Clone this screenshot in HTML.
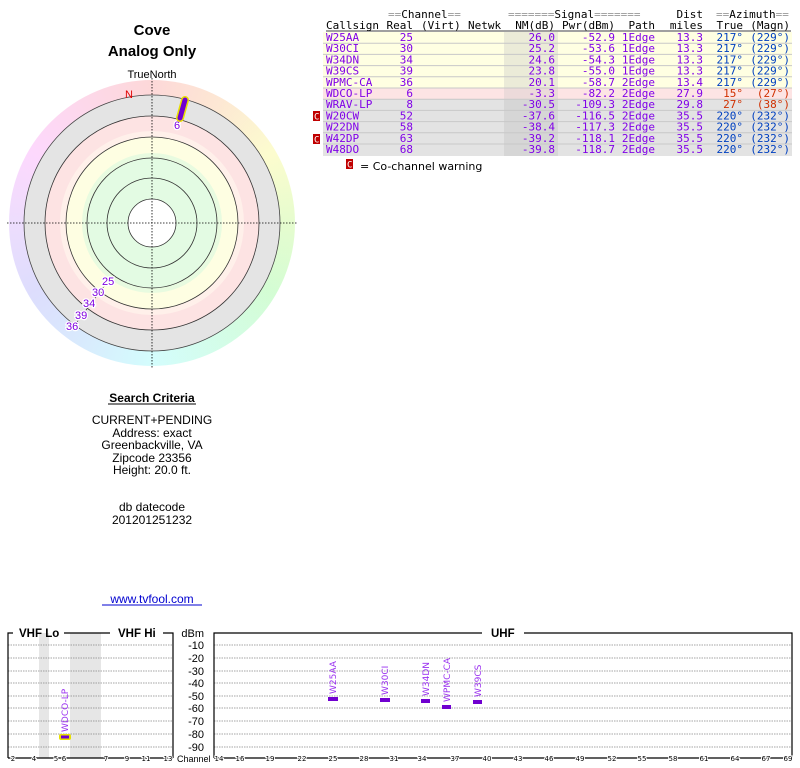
<!DOCTYPE html>
<html><head><meta charset="utf-8"><style>
body{margin:0;background:#fff;width:800px;height:768px;overflow:hidden;position:relative;font-family:"Liberation Sans",sans-serif}
#wheel{position:absolute;left:9px;top:80px;width:286px;height:286px;border-radius:50%;
background:conic-gradient(from 0deg,hsl(0,90%,92%),hsl(30,90%,91%),hsl(60,90%,90%),hsl(90,90%,90%),hsl(120,90%,91%),hsl(150,90%,91%),hsl(180,90%,91%),hsl(210,90%,92%),hsl(240,90%,93%),hsl(270,90%,93%),hsl(300,90%,92%),hsl(330,90%,92%),hsl(360,90%,92%))}
svg{position:absolute;left:0;top:0}
</style></head><body>
<div id="wheel"></div>
<svg width="800" height="768" xmlns="http://www.w3.org/2000/svg">
<g font-family="Liberation Sans, sans-serif" text-anchor="middle" fill="#000">
<text x="152" y="35" font-size="15" font-weight="bold">Cove</text>
<text x="152" y="56" font-size="15" font-weight="bold">Analog Only</text>
<text x="152" y="78" font-size="11">TrueNorth</text>
</g>
<circle cx="152" cy="223" r="128" fill="#e4e4e4" stroke="#444" stroke-width="0.8"/>
<circle cx="152" cy="223" r="107" fill="#fde3e3" stroke="#333" stroke-width="0.8"/>
<circle cx="152" cy="223" r="92" fill="#fff0ea" stroke="none"/>
<circle cx="152" cy="223" r="86" fill="#fefee2" stroke="#333" stroke-width="0.8"/>
<circle cx="152" cy="223" r="70" fill="#e8fbe0" stroke="none"/>
<circle cx="152" cy="223" r="65" fill="#e3fbe3" stroke="#333" stroke-width="0.8"/>
<circle cx="152" cy="223" r="45" fill="#e3fbe3" stroke="#333" stroke-width="0.8"/>
<circle cx="152" cy="223" r="24" fill="#fff" stroke="#333" stroke-width="0.8"/>
<line x1="7" y1="223" x2="297" y2="223" stroke="#000" stroke-width="0.8" stroke-dasharray="1.5,1.5"/>
<line x1="152" y1="78" x2="152" y2="368" stroke="#000" stroke-width="0.8" stroke-dasharray="1.5,1.5"/>
<text x="129" y="98" font-size="11" fill="#e00000" text-anchor="middle">N</text>
<line x1="108" y1="281" x2="74" y2="326" stroke="#333" stroke-width="0.8" stroke-dasharray="1.5,1"/>
<g font-family="Liberation Sans, sans-serif" font-size="11" fill="#8000e0" stroke="#fff" stroke-width="2.5" paint-order="stroke">
<text x="102" y="285">25</text><text x="92" y="296">30</text><text x="83" y="307">34</text><text x="75" y="319">39</text><text x="66" y="330">36</text>
<text x="174" y="129">6</text>
</g>
<line x1="180" y1="118" x2="185" y2="100" stroke="#e8e000" stroke-width="8" stroke-linecap="round"/>
<line x1="180" y1="118" x2="185" y2="100" stroke="#7000d0" stroke-width="5" stroke-linecap="round"/>
<g font-family="Liberation Sans, sans-serif" text-anchor="middle" font-size="12" fill="#000">
<text x="152" y="402" font-weight="bold">Search Criteria</text>
<line x1="108" y1="404" x2="196" y2="404" stroke="#000" stroke-width="1"/>
<text x="152" y="424">CURRENT+PENDING</text>
<text x="152" y="437">Address: exact</text>
<text x="152" y="449">Greenbackville, VA</text>
<text x="152" y="462">Zipcode 23356</text>
<text x="152" y="474">Height: 20.0 ft.</text>
<text x="152" y="511">db datecode</text>
<text x="152" y="524">201201251232</text>
<text x="152" y="603" fill="#0000d0">www.tvfool.com</text>
<line x1="102" y1="605" x2="202" y2="605" stroke="#0000d0" stroke-width="1"/>
</g>
<rect x="323" y="32" width="469" height="56" fill="#ffffe2"/>
<rect x="323" y="88" width="469" height="11.2" fill="#fde4e4"/>
<rect x="323" y="99.2" width="469" height="56.8" fill="#e3e3e3"/>
<rect x="504" y="32" width="54" height="56" fill="#ebebd8"/>
<rect x="504" y="88" width="54" height="11.2" fill="#ecdada"/>
<rect x="504" y="99.2" width="54" height="56.8" fill="#d6d6d6"/>
<g stroke="#c8c8c8" stroke-width="1">
<line x1="323" y1="43.2" x2="792" y2="43.2"/><line x1="323" y1="54.4" x2="792" y2="54.4"/><line x1="323" y1="65.6" x2="792" y2="65.6"/><line x1="323" y1="76.8" x2="792" y2="76.8"/><line x1="323" y1="88" x2="792" y2="88"/><line x1="323" y1="99.2" x2="792" y2="99.2"/><line x1="323" y1="110.4" x2="792" y2="110.4"/><line x1="323" y1="121.6" x2="792" y2="121.6"/><line x1="323" y1="132.8" x2="792" y2="132.8"/><line x1="323" y1="144" x2="792" y2="144"/>
</g>
<line x1="326" y1="31" x2="791" y2="31" stroke="#000" stroke-width="0.8"/>
<g font-family="DejaVu Sans Mono, monospace" font-size="11" fill="#000">
<text x="388" y="18"><tspan fill="#999">==</tspan>Channel<tspan fill="#999">==</tspan></text>
<text x="508" y="18"><tspan fill="#999">=======</tspan>Signal<tspan fill="#999">=======</tspan></text>
<text x="703" y="18" text-anchor="end">Dist</text>
<text x="716" y="18"><tspan fill="#999">==</tspan>Azimuth<tspan fill="#999">==</tspan></text>
<text x="326" y="29">Callsign</text>
<text x="413" y="29" text-anchor="end">Real</text>
<text x="421" y="29">(Virt)</text>
<text x="468" y="29">Netwk</text>
<text x="555" y="29" text-anchor="end">NM(dB)</text>
<text x="615" y="29" text-anchor="end">Pwr(dBm)</text>
<text x="655" y="29" text-anchor="end">Path</text>
<text x="703" y="29" text-anchor="end">miles</text>
<text x="743" y="29" text-anchor="end">True</text>
<text x="790" y="29" text-anchor="end">(Magn)</text>
</g>
<g font-family="DejaVu Sans Mono, monospace" font-size="11" fill="#8000e8">
<g transform="translate(0,41)"><text x="326">W25AA</text><text x="413" text-anchor="end">25</text><text x="555" text-anchor="end">26.0</text><text x="615" text-anchor="end">-52.9</text><text x="655" text-anchor="end">1Edge</text><text x="703" text-anchor="end">13.3</text><text x="743" text-anchor="end" fill="#0040c0">217°</text><text x="790" text-anchor="end" fill="#0040c0">(229°)</text></g>
<g transform="translate(0,52.2)"><text x="326">W30CI</text><text x="413" text-anchor="end">30</text><text x="555" text-anchor="end">25.2</text><text x="615" text-anchor="end">-53.6</text><text x="655" text-anchor="end">1Edge</text><text x="703" text-anchor="end">13.3</text><text x="743" text-anchor="end" fill="#0040c0">217°</text><text x="790" text-anchor="end" fill="#0040c0">(229°)</text></g>
<g transform="translate(0,63.4)"><text x="326">W34DN</text><text x="413" text-anchor="end">34</text><text x="555" text-anchor="end">24.6</text><text x="615" text-anchor="end">-54.3</text><text x="655" text-anchor="end">1Edge</text><text x="703" text-anchor="end">13.3</text><text x="743" text-anchor="end" fill="#0040c0">217°</text><text x="790" text-anchor="end" fill="#0040c0">(229°)</text></g>
<g transform="translate(0,74.6)"><text x="326">W39CS</text><text x="413" text-anchor="end">39</text><text x="555" text-anchor="end">23.8</text><text x="615" text-anchor="end">-55.0</text><text x="655" text-anchor="end">1Edge</text><text x="703" text-anchor="end">13.3</text><text x="743" text-anchor="end" fill="#0040c0">217°</text><text x="790" text-anchor="end" fill="#0040c0">(229°)</text></g>
<g transform="translate(0,85.8)"><text x="326">WPMC-CA</text><text x="413" text-anchor="end">36</text><text x="555" text-anchor="end">20.1</text><text x="615" text-anchor="end">-58.7</text><text x="655" text-anchor="end">2Edge</text><text x="703" text-anchor="end">13.4</text><text x="743" text-anchor="end" fill="#0040c0">217°</text><text x="790" text-anchor="end" fill="#0040c0">(229°)</text></g>
<g transform="translate(0,97)"><text x="326">WDCO-LP</text><text x="413" text-anchor="end">6</text><text x="555" text-anchor="end">-3.3</text><text x="615" text-anchor="end">-82.2</text><text x="655" text-anchor="end">2Edge</text><text x="703" text-anchor="end">27.9</text><text x="743" text-anchor="end" fill="#d03000">15°</text><text x="790" text-anchor="end" fill="#d03000">(27°)</text></g>
<g transform="translate(0,108.2)"><text x="326">WRAV-LP</text><text x="413" text-anchor="end">8</text><text x="555" text-anchor="end">-30.5</text><text x="615" text-anchor="end">-109.3</text><text x="655" text-anchor="end">2Edge</text><text x="703" text-anchor="end">29.8</text><text x="743" text-anchor="end" fill="#d03000">27°</text><text x="790" text-anchor="end" fill="#d03000">(38°)</text></g>
<g transform="translate(0,119.4)"><text x="326">W20CW</text><text x="413" text-anchor="end">52</text><text x="555" text-anchor="end">-37.6</text><text x="615" text-anchor="end">-116.5</text><text x="655" text-anchor="end">2Edge</text><text x="703" text-anchor="end">35.5</text><text x="743" text-anchor="end" fill="#0040c0">220°</text><text x="790" text-anchor="end" fill="#0040c0">(232°)</text></g>
<g transform="translate(0,130.6)"><text x="326">W22DN</text><text x="413" text-anchor="end">58</text><text x="555" text-anchor="end">-38.4</text><text x="615" text-anchor="end">-117.3</text><text x="655" text-anchor="end">2Edge</text><text x="703" text-anchor="end">35.5</text><text x="743" text-anchor="end" fill="#0040c0">220°</text><text x="790" text-anchor="end" fill="#0040c0">(232°)</text></g>
<g transform="translate(0,141.8)"><text x="326">W42DP</text><text x="413" text-anchor="end">63</text><text x="555" text-anchor="end">-39.2</text><text x="615" text-anchor="end">-118.1</text><text x="655" text-anchor="end">2Edge</text><text x="703" text-anchor="end">35.5</text><text x="743" text-anchor="end" fill="#0040c0">220°</text><text x="790" text-anchor="end" fill="#0040c0">(232°)</text></g>
<g transform="translate(0,153)"><text x="326">W48DO</text><text x="413" text-anchor="end">68</text><text x="555" text-anchor="end">-39.8</text><text x="615" text-anchor="end">-118.7</text><text x="655" text-anchor="end">2Edge</text><text x="703" text-anchor="end">35.5</text><text x="743" text-anchor="end" fill="#0040c0">220°</text><text x="790" text-anchor="end" fill="#0040c0">(232°)</text></g>
</g>
<g font-family="DejaVu Sans Mono, monospace" font-size="9" fill="#fff">
<rect x="313" y="111" width="7" height="10" fill="#c00000"/><text x="314" y="119.5">C</text>
<rect x="313" y="134" width="7" height="10" fill="#c00000"/><text x="314" y="142.5">C</text>
<rect x="346" y="159" width="7" height="10" fill="#c00000"/><text x="347" y="167.5">C</text>
</g>
<text x="360" y="170" font-family="DejaVu Sans, sans-serif" font-size="11" fill="#000">= Co-channel warning</text>
<rect x="39" y="633" width="10" height="125" fill="#e6e6e6"/>
<rect x="70" y="633" width="31" height="125" fill="#e6e6e6"/>
<g stroke="#888" stroke-width="0.8" stroke-dasharray="1.5,1">
<path d="M8 645H173M8 658H173M8 671H173M8 683H173M8 696H173M8 708H173M8 721H173M8 734H173M8 747H173"/>
<path d="M214 645H792M214 658H792M214 671H792M214 683H792M214 696H792M214 708H792M214 721H792M214 734H792M214 747H792"/>
</g>
<g stroke="#000" stroke-width="1.2" fill="none">
<path d="M8 758V633H13M64 633H110M163 633H173V758"/>
<path d="M214 758V633H482M524 633H792V758"/>
<path d="M8 758H173M214 758H792"/>
</g>
<g font-family="Liberation Sans, sans-serif" font-size="11.5" font-weight="bold" fill="#000">
<text x="19" y="637">VHF Lo</text><text x="118" y="637">VHF Hi</text><text x="491" y="637">UHF</text>
</g>
<g font-family="Liberation Sans, sans-serif" font-size="11" fill="#000" text-anchor="end">
<text x="204" y="637">dBm</text><text x="204" y="649">-10</text><text x="204" y="662">-20</text><text x="204" y="675">-30</text><text x="204" y="687">-40</text><text x="204" y="700">-50</text><text x="204" y="712">-60</text><text x="204" y="725">-70</text><text x="204" y="738">-80</text><text x="204" y="751">-90</text>
</g>
<text x="177" y="762" font-family="Liberation Sans, sans-serif" font-size="9" fill="#000">Channel</text>
<g font-family="DejaVu Sans, sans-serif" font-size="7" fill="#000" text-anchor="middle" stroke="#fff" stroke-width="2" paint-order="stroke">
<text x="13" y="761">2</text><text x="34" y="761">4</text><text x="56" y="761">5</text><text x="64" y="761">6</text><text x="106" y="761">7</text><text x="127" y="761">9</text><text x="146" y="761">11</text><text x="168" y="761">13</text>
<text x="219" y="761">14</text><text x="240" y="761">16</text><text x="270" y="761">19</text><text x="302" y="761">22</text><text x="333" y="761">25</text><text x="364" y="761">28</text><text x="394" y="761">31</text><text x="422" y="761">34</text><text x="455" y="761">37</text><text x="487" y="761">40</text><text x="518" y="761">43</text><text x="549" y="761">46</text><text x="580" y="761">49</text><text x="612" y="761">52</text><text x="642" y="761">55</text><text x="673" y="761">58</text><text x="704" y="761">61</text><text x="735" y="761">64</text><text x="766" y="761">67</text><text x="788" y="761">69</text>
</g>
<rect x="59" y="734" width="12" height="6" rx="2" fill="#e8e000"/>
<rect x="61" y="735.5" width="8" height="3" fill="#7000d0"/>
<g fill="#7000d0">
<rect x="328" y="697" width="10" height="4"/><rect x="380" y="698" width="10" height="4"/><rect x="421" y="699" width="9" height="4"/><rect x="442" y="705" width="9" height="4"/><rect x="473" y="700" width="9" height="4"/>
</g>
<g font-family="DejaVu Sans, sans-serif" font-size="9" fill="#9a30f0">
<text transform="translate(68,732) rotate(-90)">WDCO-LP</text>
<text transform="translate(336,694) rotate(-90)">W25AA</text>
<text transform="translate(388,695) rotate(-90)">W30CI</text>
<text transform="translate(429,696) rotate(-90)">W34DN</text>
<text transform="translate(450,702) rotate(-90)">WPMC-CA</text>
<text transform="translate(481,697) rotate(-90)">W39CS</text>
</g>
</svg>
</body></html>
